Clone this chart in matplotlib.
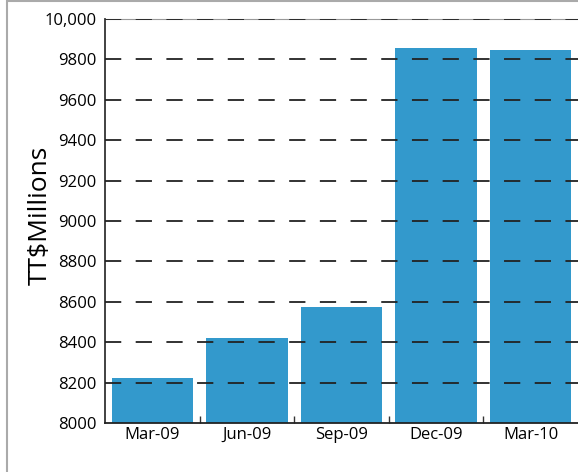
import matplotlib
matplotlib.use('Agg')
import matplotlib.pyplot as plt
from matplotlib.patches import Rectangle
import numpy as np

# quarterly values, TT$ millions
quarters = ['Mar-09', 'Jun-09', 'Sep-09', 'Dec-09', 'Mar-10']
values = [8225, 8422, 8576, 9856, 9847]
yticks = [8000, 8200, 8400, 8600, 8800, 9000, 9200, 9400, 9600, 9800, 10000]
ytick_labels = ['8000', '8200', '8400', '8600', '8800', '9000', '9200', '9400', '9600', '9800', '10,000']

plt.rcParams['font.family'] = ['Open Sans', 'DejaVu Sans']

fig = plt.figure(figsize=(5.78, 4.72), dpi=100)
ax = fig.add_axes([105/578, 49/472, 473/578, 404/472])

x = np.arange(len(quarters))
ax.bar(x, values, width=0.86, bottom=0, color='#3399cc', zorder=2)

ax.set_xlim(-0.5, len(quarters) - 0.5)
ax.set_ylim(8000, 10000)

ax.set_yticks(yticks)
ax.set_yticklabels(ytick_labels, fontsize=12)
ax.tick_params(axis='y', length=0, pad=6)

# labels centred under bars, tick marks between them
ax.set_xticks(x)
ax.set_xticklabels(quarters, fontsize=12)
ax.tick_params(axis='x', which='major', length=0, pad=3)
ax.set_xticks(x[:-1] + 0.5, minor=True)
ax.tick_params(axis='x', which='minor', direction='in', length=5, width=1, color='#333333')

# dashed grid over the bars
for yv in yticks[1:]:
    ax.axhline(yv, color='#222222', lw=1.3, ls=(0, (9, 8)), zorder=3)

ax.set_ylabel('TT$Millions', fontsize=19)
ax.yaxis.set_label_coords(-0.111, 0.515)

ax.spines['right'].set_visible(False)
ax.spines['top'].set_color('#999999')
ax.spines['left'].set_color('#333333')
ax.spines['bottom'].set_color('#222222')
ax.spines['left'].set_linewidth(1.3)
ax.spines['bottom'].set_linewidth(1.3)
ax.spines['bottom'].set_zorder(4)

# outer frame
fig.patches.append(Rectangle((7/578, -0.1), 1.2, 1.1 - 1/472, transform=fig.transFigure,
                             fill=False, edgecolor='#aaaaaa', lw=1.5))

fig.savefig('out.png', dpi=100)
plt.close(fig)
